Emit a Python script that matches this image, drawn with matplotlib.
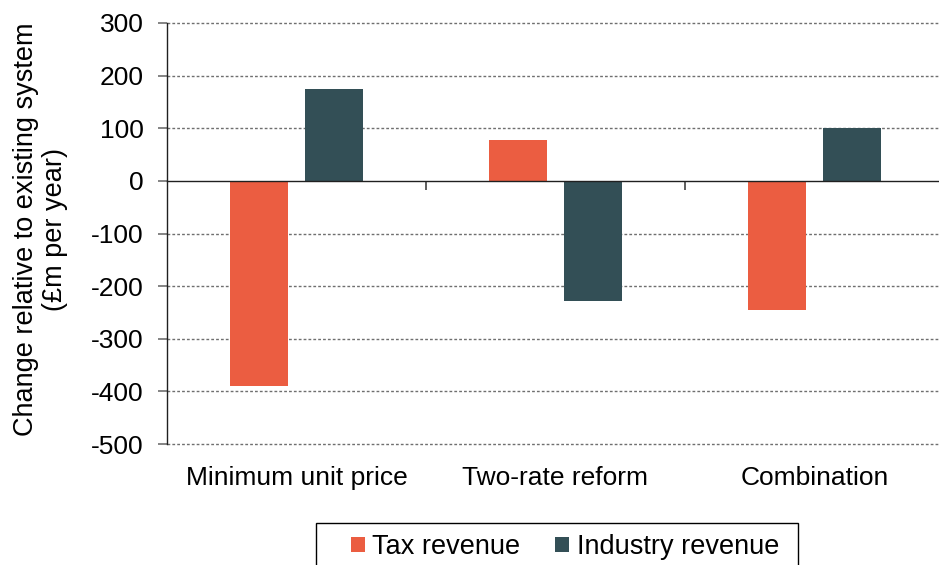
import matplotlib
matplotlib.use("Agg")
import matplotlib.pyplot as plt
from matplotlib.patches import Rectangle
import numpy as np

categories = ["Minimum unit price", "Two-rate reform", "Combination"]
tax_revenue = [-390, 77, -245]
industry_revenue = [175, -228, 100]
series_names = ["Tax revenue", "Industry revenue"]
yticks = [300, 200, 100, 0, -100, -200, -300, -400, -500]

TAX_C = "#EB5D41"
IND_C = "#334F56"

plt.rcParams['font.family'] = ['Liberation Sans', 'DejaVu Sans']

fig = plt.figure(figsize=(9.39, 5.65), dpi=100)
W, H = 939, 565
ax = fig.add_axes([167 / W, (H - 444) / H, 777 / W, 421 / H])

x = np.arange(len(categories))
bw = 0.224
off = 0.143
b1 = ax.bar(x - off, tax_revenue, bw, color=TAX_C, label=series_names[0], zorder=3)
b2 = ax.bar(x + off, industry_revenue, bw, color=IND_C, label=series_names[1], zorder=3)

ax.set_xlim(-0.5, len(categories) - 0.5)
ax.set_ylim(min(yticks), max(yticks))
ax.set_yticks(yticks)
ax.set_yticklabels([str(v) for v in yticks], fontsize=19)
ax.tick_params(axis='y', direction='out', length=6.5, width=1.2, color='#707070', pad=10.5)

for v in yticks:
    if v != 0:
        ax.axhline(v, color='#6f6f6f', lw=1.0, ls=(0, (2, 1.5)), zorder=1, clip_on=False)

for s in ['top', 'right']:
    ax.spines[s].set_visible(False)
ax.spines['left'].set_color('#202020')
ax.spines['left'].set_linewidth(1.0)
ax.spines['bottom'].set_position(('data', 0))
ax.spines['bottom'].set_color('#202020')
ax.spines['bottom'].set_linewidth(1.0)
ax.spines['bottom'].set_zorder(4)
ax.set_xticks(x[:-1] + 0.5)
ax.set_xticklabels([])
ax.tick_params(axis='x', direction='out', length=6.5, width=1.3, color='#505050')

sec = ax.secondary_xaxis('bottom')
sec.set_xticks(x)
sec.set_xticklabels(categories, fontsize=19)
sec.tick_params(length=0, pad=16)
sec.spines['bottom'].set_visible(False)

ax.set_ylabel("Change relative to existing system\n(£m per year)", fontsize=19.5,
              linespacing=1.15)
ax.yaxis.set_label_coords(-0.128, 0.51)

# legend frame (extends below the figure edge, as in the reference)
fig.patches.append(Rectangle((316 / W, -0.05), 482 / W, (565 - 523) / H + 0.05,
                             transform=fig.transFigure, fill=False,
                             ec='black', lw=1.0))
leg = fig.legend(handles=[b1, b2], labels=series_names, loc='upper left',
                 bbox_to_anchor=(351 / W, 1 - 534 / H), ncol=2, fontsize=19.5,
                 frameon=False,
                 handlelength=0.5, handleheight=0.5, handletextpad=0.28,
                 columnspacing=1.3, borderpad=0, borderaxespad=0)

fig.savefig("out.png", dpi=100)
